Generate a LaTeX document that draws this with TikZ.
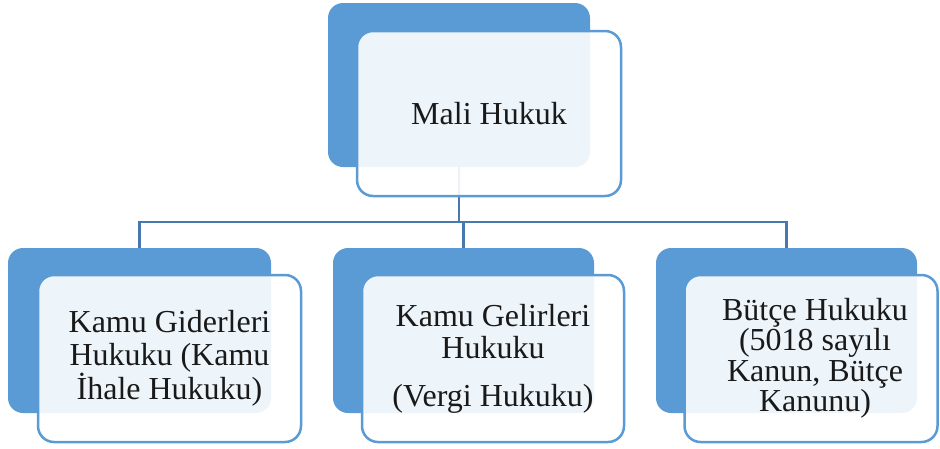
\documentclass[tikz,border=0pt]{standalone}
\usepackage{fontspec}
\setmainfont{Liberation Serif}
\definecolor{accent}{HTML}{5B9BD5}
\definecolor{connc}{HTML}{4878AE}
\begin{document}
\begin{tikzpicture}[x=1pt,y=-1pt,
  backbox/.style={shape=rectangle, fill=accent, draw=none, rounded corners=15pt, inner sep=0pt},
  frontbox/.style={shape=rectangle, fill=white, fill opacity=0.9, text opacity=1, draw=accent, draw opacity=1,
    line width=2.5pt, rounded corners=16pt, inner sep=0pt, align=center,
    font=\fontsize{32pt}{32.5pt}\selectfont, text=black!90},
  conn/.style={draw=connc, line width=2.6pt}]
\useasboundingbox (0,0) rectangle (940,448);
% back boxes
\node[backbox, minimum width=262pt, minimum height=164pt] (topback) at (459,85) {};
\node[backbox, minimum width=263pt, minimum height=165pt] (leftback) at (139.5,330.5) {};
\node[backbox, minimum width=261pt, minimum height=165pt] (midback) at (463.5,330.5) {};
\node[backbox, minimum width=261pt, minimum height=165pt] (rightback) at (786.5,330.5) {};
% connectors
\coordinate (bus) at (0,222);
\draw[conn] (topback.south) -- (topback.south |- bus);
\draw[conn] (leftback.north) -- (leftback.north |- bus) -- (rightback.north |- bus) -- (rightback.north);
\draw[conn] (midback.north) -- (midback.north |- bus);
% front boxes
\node[frontbox, minimum width=264pt, minimum height=165pt] (topfront) at (489,113.5) {Mali Hukuk};
\node[frontbox, minimum width=263pt, minimum height=167pt] (leftfront) at (169.5,358.5)
  {Kamu Giderleri\\Hukuku (Kamu\\İhale Hukuku)};
\node[frontbox, minimum width=262pt, minimum height=167pt] (midfront) at (493,358.5)
  {Kamu Gelirleri\\Hukuku\\[15pt](Vergi Hukuku)};
\node[frontbox, minimum width=253pt, minimum height=167pt,
  font=\fontsize{32pt}{30.5pt}\selectfont] (rightfront) at (811,358.5)
  {\hspace*{8pt}Bütçe Hukuku\\\hspace*{8pt}(5018 sayılı\\\hspace*{8pt}Kanun, Bütçe\\\hspace*{8pt}Kanunu)};
\end{tikzpicture}
\end{document}
